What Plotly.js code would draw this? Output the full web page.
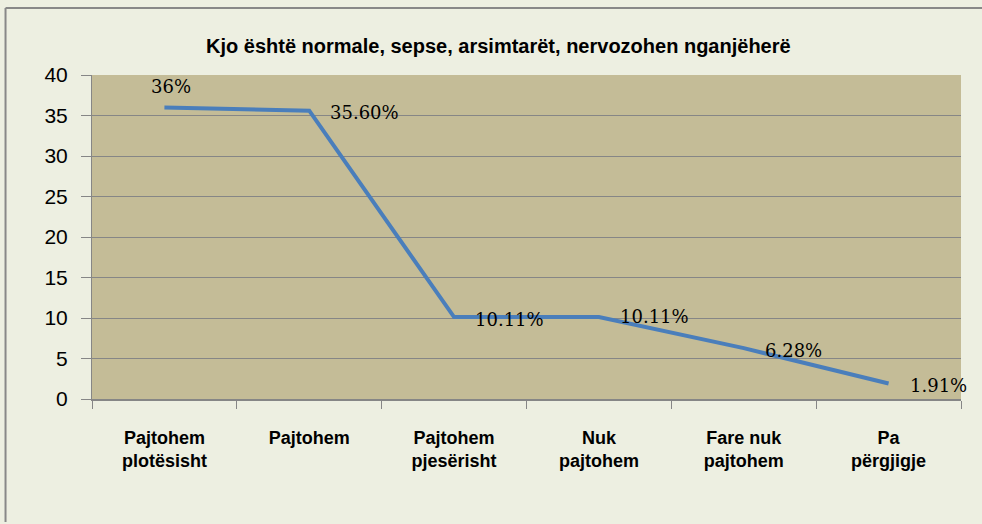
<!DOCTYPE html>
<html>
<head>
<meta charset="utf-8">
<script src="https://cdn.plot.ly/plotly-3.0.1.min.js"></script>
<style>
html,body{margin:0;padding:0;background:#EDEFE1;overflow:hidden;}
#chart{width:982px;height:524px;overflow:hidden;}
</style>
</head>
<body>
<div id="chart"></div>
<script>
const chartTitle = "Kjo është normale, sepse, arsimtarët, nervozohen nganjëherë";
const categories = ["Pajtohem<br>plotësisht", "Pajtohem", "Pajtohem<br>pjesërisht", "Nuk<br>pajtohem", "Fare nuk<br>pajtohem", "Pa<br>përgjigje"];
const values = [36, 35.6, 10.11, 10.11, 6.28, 1.91];
const valueLabels = ["36%", "35.60%", "10.11%", "10.11%", "6.28%", "1.91%"];
const yTicks = [0, 5, 10, 15, 20, 25, 30, 35, 40];

const trace = {
  type: "scatter",
  mode: "lines",
  x: categories,
  y: values,
  line: {color: "#4A7EBB", width: 4},
  hoverinfo: "skip"
};

const labelFont = {family: "DejaVu Serif, serif", size: 18, color: "#000000"};
const annotations = values.map((v, i) => i === 0 ? {
  x: categories[i], y: v, xref: "x", yref: "y", text: valueLabels[i],
  showarrow: false, xanchor: "center", yanchor: "middle", xshift: 7, yshift: 21, font: labelFont
} : {
  x: categories[i], y: v, xref: "x", yref: "y", text: valueLabels[i],
  showarrow: false, xanchor: "left", yanchor: "middle", xshift: 19, yshift: (i === 3 ? 1 : -2), font: labelFont
});

annotations.push({
  xref: "paper", yref: "paper", x: 0.468, y: 1.0, yshift: 29, xanchor: "center", yanchor: "middle",
  text: "<b>" + chartTitle + "</b>", showarrow: false,
  font: {family: "Liberation Sans, Arial, sans-serif", size: 20, color: "#000000"}
});

const layout = {
  width: 982, height: 524,
  margin: {l: 92, r: 21, t: 75, b: 124.5},
  paper_bgcolor: "#EDEFE1",
  plot_bgcolor: "#C4BC97",
  showlegend: false,
  xaxis: {
    type: "category",
    range: [-0.5, 5.5],
    tickson: "boundaries",
    ticks: "outside", ticklen: 8, tickcolor: "#868686", tickwidth: 1,
    showline: true, linecolor: "#868686", linewidth: 2,
    showgrid: false, zeroline: false,
    tickfont: {family: "Liberation Sans, Arial, sans-serif", size: 18, color: "#000000", weight: "bold"},
    ticklabelstandoff: 21,
    fixedrange: true
  },
  yaxis: {
    range: [0, 40],
    tickvals: yTicks,
    ticktext: yTicks.map(String),
    ticks: "outside", ticklen: 10, tickcolor: "#868686", tickwidth: 1,
    showline: true, linecolor: "#868686", linewidth: 1,
    showgrid: true, gridcolor: "#868686", gridwidth: 1,
    zeroline: false,
    tickfont: {family: "Liberation Sans, Arial, sans-serif", size: 21, color: "#000000"},
    ticklabelstandoff: 9,
    fixedrange: true
  },
  annotations: annotations,
  shapes: [
    {type: "line", xref: "paper", yref: "paper", x0: -0.0995, x1: -0.0995, y0: -0.38, y1: 1.2065,
     line: {color: "#888888", width: 2}, layer: "below"},
    {type: "line", xref: "paper", yref: "paper", x0: -0.0995, x1: 1.0242, y0: 1.2065, y1: 1.2065,
     line: {color: "#888888", width: 2}, layer: "below"}
  ]
};

Plotly.newPlot("chart", [trace], layout, {displayModeBar: false, staticPlot: true});
</script>
</body>
</html>
